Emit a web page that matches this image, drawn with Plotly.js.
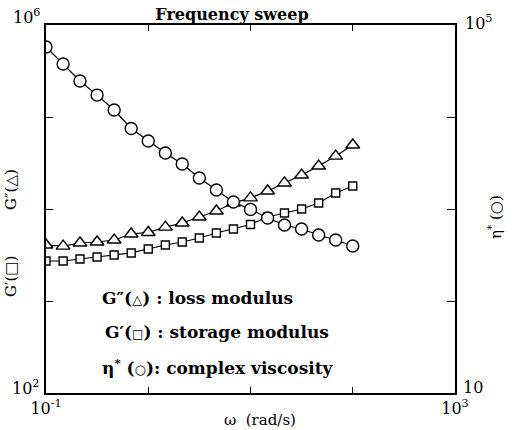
<!DOCTYPE html>
<html>
<head>
<meta charset="utf-8">
<script src="https://cdn.plot.ly/plotly-3.0.1.min.js"></script>
<style>html,body{margin:0;padding:0;background:#fff;}</style>
</head>
<body>
<div id="chart" style="width:513px;height:430px;"></div>
<script>
// Data
const omega   = [0.1, 0.147, 0.215, 0.316, 0.464, 0.681, 1, 1.47, 2.15, 3.16, 4.64, 6.81, 10, 14.7, 21.5, 31.6, 46.4, 68.1, 100];
const etaStar = [57700, 37700, 24600, 17300, 11900, 7500, 5480, 4060, 3080, 2170, 1610, 1190, 990, 798, 670, 606, 521, 460, 396];
const Gpp     = [4060, 3950, 4270, 4380, 4600, 5350, 5560, 6360, 7040, 8180, 9510, 11600, 13200, 15700, 19200, 23400, 29300, 37600, 49600];
const Gp      = [2720, 2720, 2860, 3010, 3160, 3330, 3680, 4060, 4380, 4840, 5480, 6060, 6790, 8180, 9050, 10000, 11600, 14900, 17800];

const titleText = 'Frequency sweep';
const xTitle = 'ω  (rad/s)';
const xTickVals = [0.1, 1, 10, 100, 1000];
const xTickText = ['10<sup>-1</sup>', '', '', '', '10<sup>3</sup>'];
const legendLines = [
  'G″(<span style="font-size:13px">△</span>) : loss modulus',
  'G′(<span style="font-size:12px">□</span>) : storage modulus',
  'η<sup>*</sup> (<span style="font-size:13px">○</span>): complex viscosity'
];

const L = 46, R = 455, T = 25, B = 393, W = 513, H = 430;
const px = x => (x - L) / (R - L);
const py = y => (B - y) / (B - T);

const serif = 'DejaVu Serif, Liberation Serif, serif';

const traces = [
  {x: omega, y: Gpp, type: 'scatter', mode: 'lines+markers', yaxis: 'y',
   line: {color: '#000', width: 1.2},
   marker: {symbol: 'triangle-up', size: 12, color: '#fff', line: {color: '#000', width: 1.4}}},
  {x: omega, y: Gp, type: 'scatter', mode: 'lines+markers', yaxis: 'y',
   line: {color: '#000', width: 1.2},
   marker: {symbol: 'square', size: 8, color: '#fff', line: {color: '#000', width: 1.4}}},
  {x: omega, y: etaStar, type: 'scatter', mode: 'lines+markers', yaxis: 'y2',
   line: {color: '#000', width: 1.2},
   marker: {symbol: 'circle', size: 12, color: '#fff', line: {color: '#000', width: 1.4}}}
];

const ann = [];
function A(text, x, y, opts) {
  ann.push(Object.assign({text: text, xref: 'paper', yref: 'paper', x: px(x), y: py(y),
    showarrow: false, xanchor: 'center', yanchor: 'middle',
    font: {family: serif, size: 16, color: '#000'}}, opts || {}));
}
A('10<sup>6</sup>', 26, 17);
A('10<sup>2</sup>', 25, 387);
A('10<sup>5</sup>', 478, 22);
A('10', 473, 387);
A(xTitle, 260, 420, {font: {family: serif, size: 15, color: '#000'}});
A('G″(△)', 11, 190, {textangle: -90, font: {family: serif, size: 15, color: '#000'}});
A('G′(□)', 11, 277, {textangle: -90, font: {family: serif, size: 15, color: '#000'}});
A('η<sup>*</sup> (○)', 495, 217, {textangle: -90, font: {family: serif, size: 15, color: '#000'}});
A('<b>' + legendLines[0] + '</b>', 100, 298, {xanchor: 'left', font: {family: serif, size: 17, color: '#000'}});
A('<b>' + legendLines[1] + '</b>', 103, 332, {xanchor: 'left', font: {family: serif, size: 17, color: '#000'}});
A('<b>' + legendLines[2] + '</b>', 100, 367, {xanchor: 'left', font: {family: serif, size: 17, color: '#000'}});

const layout = {
  width: W, height: H,
  margin: {l: L, r: W - R, t: T, b: H - B, pad: 0},
  paper_bgcolor: '#fff', plot_bgcolor: '#fff',
  showlegend: false,
  title: {text: '<b>' + titleText + '</b>', xref: 'container', yref: 'container',
          x: 232 / W, y: 1 - 14 / H, xanchor: 'center', yanchor: 'middle',
          font: {family: serif, size: 16, color: '#000'}},
  xaxis: {type: 'log', range: [-1, 3], showline: true, linecolor: '#000', linewidth: 1.5,
          mirror: 'ticks', ticks: 'inside', ticklen: 6, tickwidth: 1.3, tickcolor: '#000',
          tickvals: xTickVals, ticktext: xTickText, tickangle: 0,
          tickfont: {family: serif, size: 16, color: '#000'},
          showgrid: false, zeroline: false},
  yaxis: {type: 'log', range: [2, 6], showline: true, linecolor: '#000', linewidth: 1.5,
          ticks: 'inside', ticklen: 7, tickwidth: 1.3, tickcolor: '#000',
          tickvals: [1e3, 1e4, 1e5], showticklabels: false, showgrid: false, zeroline: false},
  yaxis2: {type: 'log', range: [1, 5], overlaying: 'y', side: 'right', showline: true,
           linecolor: '#000', linewidth: 1.5, ticks: 'inside', ticklen: 8, tickwidth: 1.3,
           tickcolor: '#000', tickvals: [100, 1e3, 1e4], showticklabels: false,
           showgrid: false, zeroline: false},
  annotations: ann
};

Plotly.newPlot('chart', traces, layout, {displayModeBar: false});
</script>
</body>
</html>
